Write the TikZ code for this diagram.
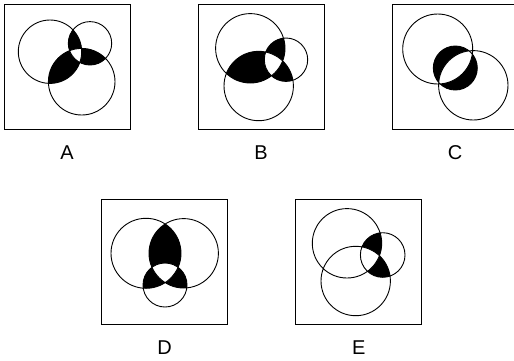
\documentclass[tikz,border=0pt]{standalone}
\usepackage{fontspec}
\setmainfont{Liberation Sans}
\usetikzlibrary{positioning}

% black where a point lies in exactly two of three circles
\newcommand{\exactlytwo}[3]{%
  \begin{scope}\clip #1; \fill #2; \fill #3; \end{scope}
  \begin{scope}\clip #2; \fill #3; \end{scope}
  \begin{scope}\clip #1; \clip #2; \fill[white] #3; \end{scope}}

\begin{document}
\begin{tikzpicture}[
  x=1pt,y=-1pt,
  panel/.style={rectangle,draw=black,line width=0.9pt,minimum width=126pt,minimum height=125pt,inner sep=0pt},
  ring/.style={draw=black,line width=0.9pt},
  tag/.style={font=\fontsize{20}{24}\selectfont,inner sep=0pt}
]
\useasboundingbox (0,0) rectangle (514,360);

% panel A
\def\Aleft{(50,51.7) circle (31.7pt)}
\def\Asmall{(90,43.3) circle (21.7pt)}
\def\Alow{(81.7,81.7) circle (33.3pt)}
\node[panel] (boxA) at (67,66.5) {};
\exactlytwo{\Aleft}{\Asmall}{\Alow}
\draw[ring] \Aleft \Asmall \Alow;
\node[tag] (labA) at (67,153) {A};

% panel B
\def\Bbig{(250.3,48.3) circle (34.7pt)}
\def\Bsmall{(286,59.7) circle (21.7pt)}
\def\Blow{(258.7,86) circle (34.7pt)}
\node[panel] (boxB) at (261,66.5) {};
\exactlytwo{\Bbig}{\Bsmall}{\Blow}
\draw[ring] \Bbig \Bsmall \Blow;
\node[tag] (labB) at (261,153) {B};

% panel C
\def\Cbig{(437.7,49) circle (35pt)}
\def\Cmid{(455.3,68) circle (22pt)}
\def\Clow{(473.3,85.3) circle (34.7pt)}
\node[panel] (boxC) at (455,66.5) {};
\fill \Cmid;
\begin{scope}\clip \Cbig; \clip \Clow; \fill[white] \Cmid; \end{scope}
\draw[ring] \Cbig \Cmid \Clow;
\node[tag] (labC) at (455,153) {C};

% panel D
\def\Dleft{(146,253.3) circle (35pt)}
\def\Dright{(183.7,253.3) circle (34.7pt)}
\def\Dlow{(165,285) circle (22pt)}
\node[panel] (boxD) at (164.7,262.2) {};
\exactlytwo{\Dleft}{\Dright}{\Dlow}
\draw[ring] \Dleft \Dright \Dlow;
\node[tag] (labD) at (164.7,348) {D};

% panel E
\def\Ebig{(347,243.3) circle (34.7pt)}
\def\Esmall{(382.7,255) circle (22.3pt)}
\def\Elow{(355.7,281) circle (34.7pt)}
\node[panel] (boxE) at (358.7,262.2) {};
\begin{scope}\clip \Esmall; \fill \Ebig; \fill \Elow; \end{scope}
\begin{scope}\clip \Esmall; \clip \Ebig; \fill[white] \Elow; \end{scope}
\draw[ring] \Ebig \Esmall \Elow;
\node[tag] (labE) at (358.7,348) {E};
\end{tikzpicture}
\end{document}
